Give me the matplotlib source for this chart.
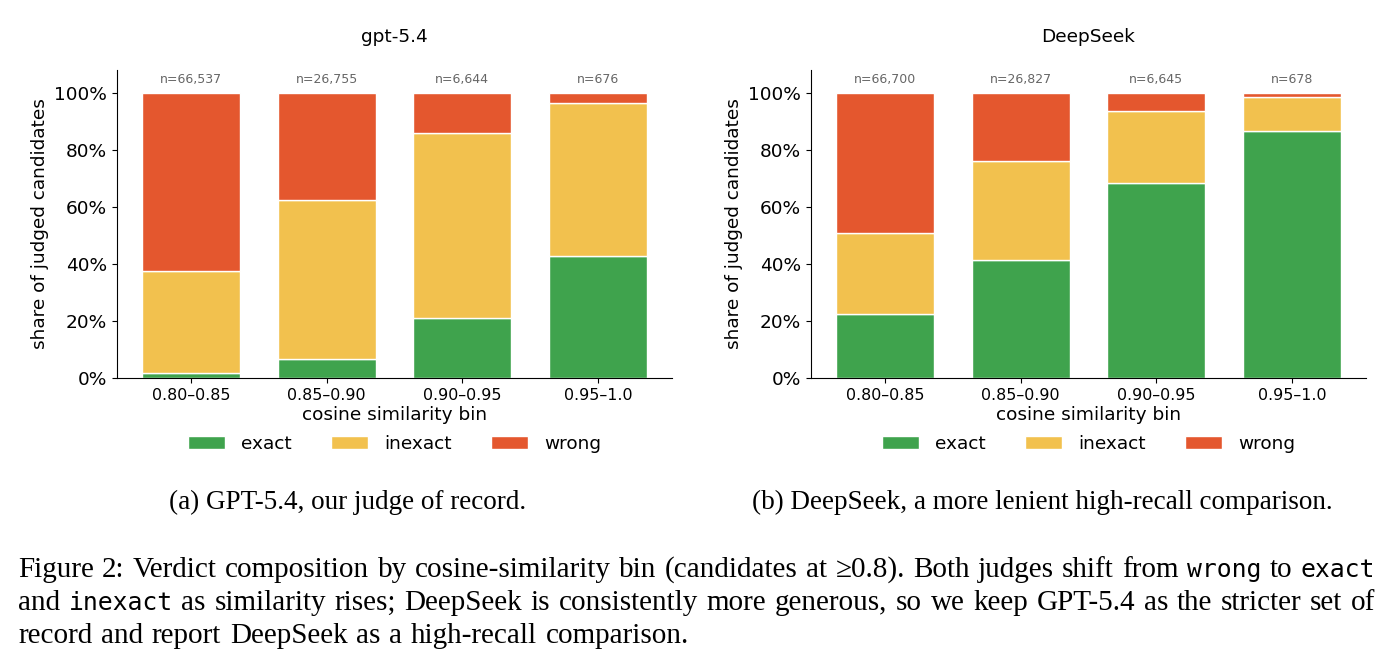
import numpy as np
import matplotlib
matplotlib.use("Agg")
import matplotlib.pyplot as plt
from matplotlib.ticker import PercentFormatter

# data
bins = ["0.80–0.85", "0.85–0.90", "0.90–0.95", "0.95–1.0"]
labels = ["exact", "inexact", "wrong"]
colors = ["#3fa34d", "#f2c14e", "#e4572e"]

gpt_exact = [0.018, 0.068, 0.210, 0.429]
gpt_inexact = [0.357, 0.557, 0.650, 0.535]
gpt_wrong = [0.625, 0.375, 0.140, 0.036]
gpt_n = ["66,537", "26,755", "6,644", "676"]

ds_exact = [0.224, 0.415, 0.685, 0.866]
ds_inexact = [0.286, 0.346, 0.252, 0.119]
ds_wrong = [0.490, 0.239, 0.063, 0.015]
ds_n = ["66,700", "26,827", "6,645", "678"]

panels = [
    ("gpt-5.4", [gpt_exact, gpt_inexact, gpt_wrong], gpt_n),
    ("DeepSeek", [ds_exact, ds_inexact, ds_wrong], ds_n),
]

FS = 13.3
plt.rcParams["font.family"] = "DejaVu Sans"

fig = plt.figure(figsize=(13.92, 6.69), dpi=100)
W, H = 1392, 669

axes_left = [117, 811]
for (title, series, ns), left in zip(panels, axes_left):
    ax = fig.add_axes([left / W, 1 - 378 / H, 555 / W, 308 / H])
    x = np.arange(len(bins))
    bottom = np.zeros(len(bins))
    for vals, lab, col in zip(series, labels, colors):
        ax.bar(x, vals, 0.72, bottom=bottom, color=col, edgecolor="white",
               linewidth=1, label=lab)
        bottom += np.array(vals)
    for xi, n in zip(x, ns):
        ax.text(xi, 1.025, "n=" + n, ha="center", va="bottom", fontsize=9,
                color="#666666")
    ax.set_ylim(0, 1.08)
    ax.set_xticks(x)
    ax.set_xticklabels(bins, fontsize=FS * 0.86)
    ax.yaxis.set_major_formatter(PercentFormatter(1.0, decimals=0))
    ax.tick_params(axis="y", labelsize=FS)
    ax.set_ylabel("share of judged candidates", fontsize=FS)
    ax.set_xlabel("cosine similarity bin", fontsize=FS, labelpad=2)
    ax.set_title(title, fontsize=FS, pad=20)
    ax.spines["top"].set_visible(False)
    ax.spines["right"].set_visible(False)
    ax.legend(loc="upper center", bbox_to_anchor=(0.5, -0.16), ncol=3,
              frameon=False, fontsize=FS, columnspacing=2.1,
              handletextpad=0.9, borderaxespad=0)

serif = "Liberation Serif"
mono = "DejaVu Sans Mono"
CFS = 21
SUBFS = 19.5

fig.text(348 / W, 1 - 502 / H, "(a) GPT-5.4, our judge of record.",
         family=serif, fontsize=SUBFS, ha="center", va="center")
fig.text(1042 / W, 1 - 502 / H,
         "(b) DeepSeek, a more lenient high-recall comparison.",
         family=serif, fontsize=SUBFS, ha="center", va="center")

renderer = fig.canvas.get_renderer()


def put_line(y, words, x0, x1=None):
    objs = []
    widths = []
    for w, fam in words:
        fs = CFS * 0.85 if fam == mono else CFS
        t = fig.text(0, 1 - y / H, w, family=fam, fontsize=fs, va="baseline")
        objs.append(t)
        widths.append(t.get_window_extent(renderer).width)
    if x1 is None:
        gap = CFS * 0.3 * 100 / 72
    else:
        gap = (x1 - x0 - sum(widths)) / (len(words) - 1)
    xx = x0
    for t, wd in zip(objs, widths):
        t.set_x(xx / W)
        xx += wd + gap


def words_of(s, fam):
    return [(w, fam) for w in s.split(" ")]


line1 = (words_of("Figure 2: Verdict composition by cosine-similarity bin "
                  "(candidates at ≥0.8). Both judges shift from", serif)
         + [("wrong", mono), ("to", serif), ("exact", mono)])
line2 = ([("and", serif), ("inexact", mono)]
         + words_of("as similarity rises; DeepSeek is consistently more "
                    "generous, so we keep GPT-5.4 as the stricter set of", serif))
line3 = words_of("record and report DeepSeek as a high-recall comparison.", serif)

put_line(577, line1, 18, 1375)
put_line(610, line2, 18, 1375)
put_line(643, line3, 18)

fig.savefig("out.png", dpi=100)
